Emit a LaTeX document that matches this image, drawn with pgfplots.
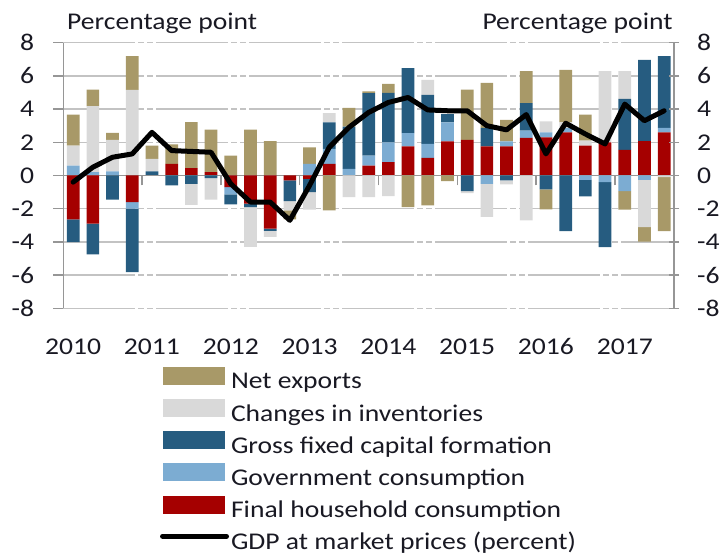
\documentclass[border=0pt]{standalone}
\usepackage{fontspec}
\setmainfont{Carlito}[FakeStretch=1.15]
\usepackage{pgfplots}
\usepackage{pgfplotstable}
\pgfplotsset{compat=1.18}

\definecolor{cNX}{RGB}{168,153,104}
\definecolor{cINV}{RGB}{217,217,217}
\definecolor{cGF}{RGB}{38,92,128}
\definecolor{cGOV}{RGB}{124,172,210}
\definecolor{cHH}{RGB}{165,0,0}
\definecolor{cGrid}{RGB}{195,195,195}
\definecolor{cAx}{RGB}{150,150,150}
\definecolor{cTxt}{RGB}{25,25,35}

\pgfplotstableread{
x hh gov gfcf inv nx gdp
0 -2.65 0.60 -1.37 1.20 1.87 -0.40
1 -2.90 0.20 -1.85 3.98 1.00 0.50
2 0.00 0.25 -1.45 1.90 0.42 1.10
3 -1.60 -0.40 -3.82 5.16 2.03 1.30
4 0.00 0.00 0.25 0.75 0.80 2.60
5 0.70 0.00 -0.60 0.00 1.17 1.50
6 0.44 0.00 -0.50 -1.27 2.77 1.45
7 0.20 0.00 -0.16 -1.29 2.57 1.40
8 -0.70 -0.44 -0.60 0.00 1.20 -0.50
9 -1.70 0.00 -0.20 -2.40 2.77 -1.60
10 -3.20 0.00 -0.14 -0.36 2.07 -1.60
11 -0.30 0.00 -1.25 -0.55 -0.55 -2.70
12 -0.20 0.70 -0.80 -1.05 1.00 -0.60
13 0.70 0.90 1.60 0.55 -2.10 1.70
14 0.00 0.40 2.55 -1.30 1.13 2.90
15 0.60 0.60 3.76 -1.30 0.10 3.80
16 0.80 1.20 2.98 -1.25 0.54 4.40
17 1.75 0.80 3.92 0.00 -1.90 4.70
18 1.06 0.84 2.96 0.90 -1.80 3.95
19 2.05 1.15 0.50 0.00 -0.34 3.90
20 2.15 0.00 -0.94 -0.12 3.03 3.90
21 1.75 -0.50 1.12 -2.00 2.71 3.00
22 1.75 0.30 -0.30 -0.24 1.30 2.75
23 2.27 0.44 1.65 -2.70 1.93 3.67
24 2.30 0.30 -0.84 0.66 -1.20 1.30
25 2.60 0.25 -3.35 0.35 3.17 3.15
26 1.80 -0.26 -1.00 0.30 1.57 2.50
27 2.00 -0.40 -3.92 4.29 0.00 1.90
28 1.55 -0.94 3.07 1.67 -1.11 4.30
29 2.07 -0.26 4.90 -2.85 -0.87 3.30
30 2.60 0.27 4.32 -0.10 -3.25 3.90
}\data

\pgfplotsset{
  base/.style={
    scale only axis, width=610.7pt, height=265.6pt,
    at={(63.3pt,248.7pt)}, anchor=south west,
    xmin=-0.5, xmax=30.5, ymin=-8, ymax=8,
    clip=false,
  },
  barsty/.style={fill=#1, draw=none, bar width=12.7pt},
}

\newcommand{\fnt}{\fontsize{24pt}{28pt}\selectfont}

\begin{document}
\fnt
\begin{tikzpicture}
\path[use as bounding box] (0,0) rectangle (721pt,557pt);

% positive parts
\begin{axis}[base, ybar stacked,
  axis y line*=left, y axis line style={-, cAx, line width=1.3pt},
  axis x line*=bottom, x axis line style={draw=none},
  xtick={0,4,...,28}, xticklabels={2010,2011,2012,2013,2014,2015,2016,2017},
  xtick style={draw=none},
  xticklabel style={font=\fnt, text=cTxt, yshift=-12pt},
  ytick={-8,-6,...,8}, yticklabels={-8,-6,-4,-2,0,2,4,6,8},
  y tick label style={font=\fnt, text=cTxt, anchor=east, inner sep=0pt, xshift=-19pt},
  ytick style={cAx, line width=1.3pt},
  tick align=outside, major tick length=10pt,
  ymajorgrids, grid style={cGrid, line width=1.3pt, dash pattern=on 72pt off 3pt on 6pt off 3pt on 6pt off 3pt},
]
\addplot[barsty=cHH] table[x=x, y expr={max(\thisrow{hh},0)}] {\data};
\addplot[barsty=cGOV] table[x=x, y expr={max(\thisrow{gov},0)}] {\data};
\addplot[barsty=cGF] table[x=x, y expr={max(\thisrow{gfcf},0)}] {\data};
\addplot[barsty=cINV] table[x=x, y expr={max(\thisrow{inv},0)}] {\data};
\addplot[barsty=cNX] table[x=x, y expr={max(\thisrow{nx},0)}] {\data};
\node[anchor=base west, text=cTxt, font=\fnt, inner sep=0pt] at (axis description cs:0.006,1.048) {Percentage point};
\node[anchor=base east, text=cTxt, font=\fnt, inner sep=0pt] at (axis description cs:0.998,1.048) {Percentage point};
\end{axis}

% negative parts + zero line + right axis
\begin{axis}[base, ybar stacked,
  axis x line=middle, x axis line style={-, cAx, line width=1.3pt},
  xtick={3.5,7.5,...,27.5}, xticklabels={},
  xtick style={cAx, line width=1.3pt, yshift=-5pt},
  axis y line*=right, y axis line style={-, cAx, line width=1.3pt},
  ytick={-8,-6,...,8}, yticklabels={-8,-6,-4,-2,0,2,4,6,8},
  y tick label style={font=\fnt, text=cTxt, anchor=west, inner sep=0pt, xshift=23pt},
  ytick style={cAx, line width=1.3pt, xshift=5pt},
  major tick length=10pt,
]
\addplot[barsty=cHH] table[x=x, y expr={min(\thisrow{hh},0)}] {\data};
\addplot[barsty=cGOV] table[x=x, y expr={min(\thisrow{gov},0)}] {\data};
\addplot[barsty=cGF] table[x=x, y expr={min(\thisrow{gfcf},0)}] {\data};
\addplot[barsty=cINV] table[x=x, y expr={min(\thisrow{inv},0)}] {\data};
\addplot[barsty=cNX] table[x=x, y expr={min(\thisrow{nx},0)}] {\data};
\end{axis}

% GDP line + legend
\begin{axis}[base, hide axis,
  legend style={at={(0.1584,-0.2199)}, anchor=north west, draw=none, fill=none,
    font=\fnt, text=cTxt, inner sep=0pt, outer sep=0pt, row sep=5.0pt, column sep=2pt,
    nodes={inner sep=0pt, text height=17pt, text depth=5pt}},
  legend cell align=left,
]
\addlegendimage{legend image code/.code={\fill[cNX] (0pt,-1pt) rectangle (61pt,16pt);}}
\addlegendentry{Net exports}
\addlegendimage{legend image code/.code={\fill[cINV] (0pt,-1pt) rectangle (61pt,16pt);}}
\addlegendentry{Changes in inventories}
\addlegendimage{legend image code/.code={\fill[cGF] (0pt,-1pt) rectangle (61pt,16pt);}}
\addlegendentry{Gross fixed capital formation}
\addlegendimage{legend image code/.code={\fill[cGOV] (0pt,-1pt) rectangle (61pt,16pt);}}
\addlegendentry{Government consumption}
\addlegendimage{legend image code/.code={\fill[cHH] (0pt,-1pt) rectangle (61pt,16pt);}}
\addlegendentry{Final household consumption}
\addplot[black, line width=5pt, line join=round, line cap=round,
  legend image code/.code={\path[draw=none, fill=none] (0pt,-1pt) rectangle (61pt,16pt);
    \draw[black, line width=5pt, line cap=round] (-1pt,7.5pt) -- (63pt,7.5pt);}]
  table[x=x, y=gdp] {\data};
\addlegendentry{GDP at market prices (percent)}
\end{axis}
\end{tikzpicture}
\end{document}
